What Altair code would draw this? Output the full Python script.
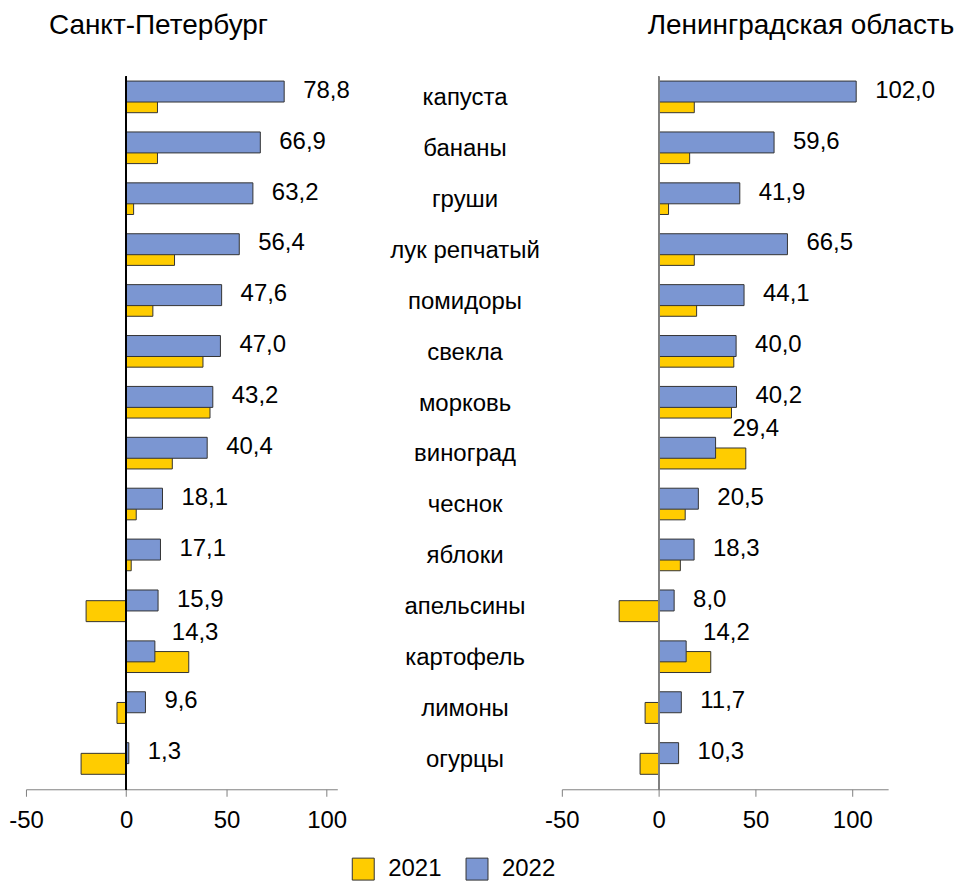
import altair as alt
import pandas as pd

categories = ["капуста", "бананы", "груши", "лук репчатый", "помидоры", "свекла",
              "морковь", "виноград", "чеснок", "яблоки", "апельсины", "картофель",
              "лимоны", "огурцы"]
spb_2022 = [78.8, 66.9, 63.2, 56.4, 47.6, 47.0, 43.2, 40.4, 18.1, 17.1, 15.9, 14.3, 9.6, 1.3]
spb_2021 = [15.6, 15.6, 3.7, 24.1, 13.3, 38.3, 41.8, 23.0, 5.0, 2.5, -20.0, 31.2, -4.6, -22.5]
lo_2022 = [102.0, 59.6, 41.9, 66.5, 44.1, 40.0, 40.2, 29.4, 20.5, 18.3, 8.0, 14.2, 11.7, 10.3]
lo_2021 = [18.4, 16.0, 5.1, 18.4, 19.6, 38.8, 37.6, 45.0, 13.7, 11.2, -20.4, 26.9, -7.0, -9.6]
years = ["2021", "2022"]
tick_values = [-50, 0, 50, 100]

YEL = "#FFCC00"
BLU = "#7B96D2"
FONT = "Liberation Sans"
FS = 24


def make_frames(v21, v22):
    wide = pd.DataFrame({
        "cat": categories,
        "v2021": v21,
        "v2022": v22,
        "label": [f"{v:.1f}".replace(".", ",") for v in v22],
    })
    long = pd.DataFrame({
        "cat": categories * 2,
        "series": [years[0]] * len(categories) + [years[1]] * len(categories),
        "value": list(v21) + list(v22),
    })
    return wide, long


color = alt.Color(
    "series:N",
    scale=alt.Scale(domain=years, range=[YEL, BLU]),
    legend=alt.Legend(
        title=None, orient="none", direction="horizontal",
        legendX=326, legendY=782, padding=0,
        symbolType="square", symbolSize=484, symbolStrokeColor="#333333",
        symbolStrokeWidth=1, symbolOpacity=1,
        labelFontSize=FS, labelFont=FONT, labelColor="black",
        labelOffset=13, columnPadding=22,
    ),
)

H = 714


def panel(v21, v22, xmax, width, title, title_dx, rule_color):
    wide, long = make_frames(v21, v22)
    y = alt.Y("cat:N", sort=categories, axis=None,
              scale=alt.Scale(paddingInner=0, paddingOuter=0))
    xs = alt.Scale(domain=[-50, xmax], nice=False, zero=False)
    xaxis = alt.Axis(values=tick_values, title=None, grid=False,
                     domainColor="#808080", tickColor="#808080", tickSize=7,
                     labelFontSize=FS, labelFont=FONT, labelColor="black",
                     labelPadding=12, labelFlush=False, labelOverlap=False,
                     labelExpr="'' + datum.value")
    x = alt.X("value:Q", scale=xs, axis=xaxis)
    base = alt.Chart(long)
    yellow = base.transform_filter("datum.series == '2021'").mark_bar(
        height=21, stroke="#333333", strokeWidth=1
    ).encode(x=x, x2=alt.datum(0), y=y, color=color)
    blue = base.transform_filter("datum.series == '2022'").mark_bar(
        height=21, yOffset=-10.7, stroke="#333333", strokeWidth=1
    ).encode(x=x, x2=alt.datum(0), y=y, color=color)
    rule = alt.Chart(long).mark_rule(color=rule_color, strokeWidth=1).encode(x=alt.datum(0))
    tbase = alt.Chart(wide)
    txt_norm = tbase.transform_filter("datum.v2021 <= datum.v2022").mark_text(
        align="left", baseline="middle", dx=19, yOffset=-11.5,
        fontSize=FS, font=FONT, color="black"
    ).encode(x=alt.X("v2022:Q", scale=xs, axis=xaxis), y=y, text="label:N")
    txt_up = tbase.transform_filter("datum.v2021 > datum.v2022").mark_text(
        align="left", baseline="middle", dx=17, yOffset=-29.5,
        fontSize=FS, font=FONT, color="black"
    ).encode(x=alt.X("v2022:Q", scale=xs, axis=xaxis), y=y, text="label:N")
    return alt.layer(yellow, blue, rule, txt_norm, txt_up).properties(
        width=width, height=H,
        title=alt.TitleParams(title, anchor="start", frame="group", dx=title_dx, offset=14,
                              baseline="alphabetic", fontSize=28, font=FONT,
                              fontWeight="normal", color="black"),
    )


left = panel(spb_2021, spb_2022, 105.3, 312, "Санкт-Петербург", 23, "black")
right = panel(lo_2021, lo_2022, 118.5, 327, "Ленинградская область", 86, "#808080")

mid_df = pd.DataFrame({"cat": categories})
middle = alt.Chart(mid_df).mark_text(
    fontSize=FS, font=FONT, color="black", align="center", baseline="alphabetic", dy=3
).encode(
    y=alt.Y("cat:N", sort=categories, axis=None,
            scale=alt.Scale(paddingInner=0, paddingOuter=0)),
    x=alt.value(128),
    text="cat:N",
).properties(width=225, height=H)

chart = alt.hconcat(left, middle, right, spacing=0, bounds="flush").properties(
    padding={"top": 3, "left": 0, "right": 0, "bottom": 0}
).configure_view(stroke=None).resolve_scale(x="independent", y="shared")

chart.save("out.html", embed_options={"renderer": "svg", "actions": False})
